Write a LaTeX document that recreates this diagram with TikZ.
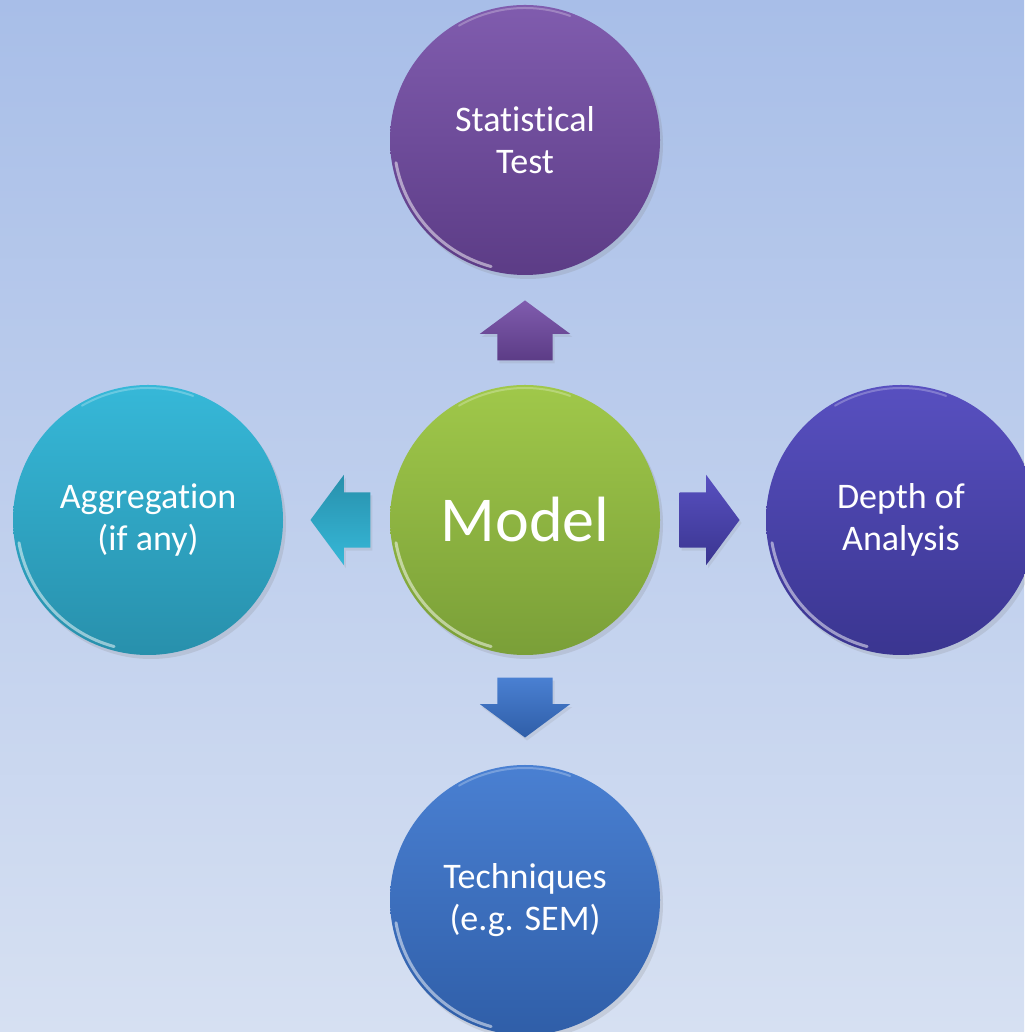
\documentclass[tikz,border=0pt]{standalone}
\usepackage{fontspec}
\setmainfont[Ligatures={NoCommon}]{Carlito}
\usetikzlibrary{calc, shapes.arrows, shadows}
\definecolor{bgtop}{RGB}{168,190,232}
\definecolor{bgbot}{RGB}{214,224,242}
\definecolor{purpA}{RGB}{128,92,174}
\definecolor{purpB}{RGB}{92,60,134}
\definecolor{cyanA}{RGB}{54,184,216}
\definecolor{cyanB}{RGB}{40,144,172}
\definecolor{indiA}{RGB}{88,80,192}
\definecolor{indiB}{RGB}{58,53,144}
\definecolor{blueA}{RGB}{74,128,210}
\definecolor{blueB}{RGB}{47,94,168}
\definecolor{grnA}{RGB}{160,200,74}
\definecolor{grnB}{RGB}{122,159,56}
\tikzstyle{ball}=[circle, minimum size=270pt, inner sep=0pt, text=white, align=center,
font=\fontsize{36}{42}\selectfont, drop shadow={opacity=0.2, shadow xshift=3pt, shadow yshift=-4pt}]
\tikzstyle{blk}=[single arrow, anchor=tip, inner xsep=0pt, inner ysep=27.5pt, minimum height=60pt,
minimum width=90pt, single arrow head extend=17.5pt, single arrow tip angle=107,
drop shadow={opacity=0.15, shadow xshift=2pt, shadow yshift=-3pt}]
\tikzstyle{rim}=[white, opacity=0.5, line width=3pt, line cap=round]

\begin{document}
\begin{tikzpicture}[x=1pt,y=1pt]
      % background
      \shade[top color=bgtop, bottom color=bgbot] (0,0) rectangle (1024,1032);
      \useasboundingbox (0,0) rectangle (1024,1032);
      \node [ball, top color=grnA, bottom color=grnB, font=\fontsize{64}{70}\selectfont] (model) at (525,512) {Model};
      \node [ball, top color=purpA, bottom color=purpB] (stat) at (525,892) {Statistical\\Test};
      \node [ball, top color=cyanA, bottom color=cyanB] (aggr) at (148,512) {Aggregation\\(if any)};
      \node [ball, top color=indiA, bottom color=indiB] (depth) at (901,512) {Depth of\\Analysis};
      \node [ball, top color=blueA, bottom color=blueB] (tech) at (525,132) {Techniques\\(e.g. SEM)};
      % glossy rims
      \foreach \n in {model, stat, aggr, depth, tech} {
        \draw[rim] ($(\n.center)+(190:131)$) arc (190:255:131);
        \draw[rim, opacity=0.25, line width=2pt] ($(\n.center)+(70:132)$) arc (70:120:132);
      }
      % block arrows
      \node [blk, rotate=90, top color=purpA, bottom color=purpB] (up) at ($(stat.south)!25pt!(model.north)$) {};
      \node [blk, rotate=180, top color=cyanB, bottom color=cyanA] (left) at ($(aggr.east)!27pt!(model.west)$) {};
      \node [blk, top color=indiA, bottom color=indiB] (right) at ($(depth.west)!26pt!(model.east)$) {};
      \node [blk, rotate=-90, top color=blueA, bottom color=blueB] (down) at ($(tech.north)!27pt!(model.south)$) {};
\end{tikzpicture}
\end{document}
